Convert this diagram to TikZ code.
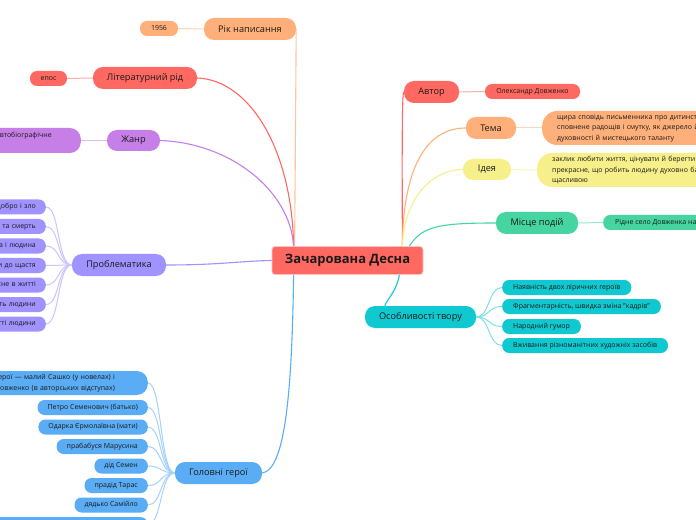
\documentclass[tikz,border=0pt]{standalone}
\usepackage{fontspec}
\setmainfont{Open Sans}
\usetikzlibrary{calc}
\definecolor{txt}{HTML}{1A1A1A}
\definecolor{cred}{HTML}{FF6961}
\definecolor{corange}{HTML}{FFB07A}
\definecolor{cpurple}{HTML}{C57FE6}
\definecolor{clav}{HTML}{A093FF}
\definecolor{cblue}{HTML}{5AADF5}
\definecolor{cyellow}{HTML}{F7EF8A}
\definecolor{cgreen}{HTML}{46D5A1}
\definecolor{ccyan}{HTML}{10C9D0}
\tikzset{
  br/.style={fill=#1, rounded corners=10bp, minimum height=22bp, inner sep=0pt,
    font=\fontsize{9.2}{11}\selectfont, text=txt},
  lf/.style={fill=#1, rounded corners=7bp, minimum height=15bp, inner xsep=10bp, inner ysep=0pt,
    font=\fontsize{7}{9}\selectfont, text=txt},
  para/.style={fill=#1, rounded corners=15bp, inner xsep=15bp, inner ysep=0pt, minimum height=34bp,
    text width=200bp, align=left, font=\fontsize{7}{10.5}\selectfont, text=txt},
  conn/.style={draw=#1, line width=1.1bp},
  lconn/.style={draw=#1!55!white, line width=1bp},
}
\begin{document}
\begin{tikzpicture}[x=1bp,y=-1bp]
\clip (0,0) rectangle (696,520);
\fill[white] (0,0) rectangle (696,520);

% central
\node[fill=cred, draw=cred!40!white, line width=0.8bp, rounded corners=3bp, minimum width=151bp,
  minimum height=28bp, inner sep=0pt, text=txt, font=\fontsize{13}{15}\selectfont\bfseries]
  (central) at (347.5,260.5) {Зачарована Десна};
\coordinate (cL) at ($(central.north west)+(22,0)$);
\coordinate (cLr) at ($(central.north west)+(23,0)$);
\coordinate (cR) at ($(central.north east)+(-21,0)$);
\coordinate (cM) at ($(central.north east)+(-14,0)$);
\coordinate (cB) at ($(central.south west)+(22,0)$);
\coordinate (cBR) at ($(central.south east)+(-24,0)$);

% left branches
\node[br=corange, minimum width=92bp] (rik) at (250,29) {Рік написання};
\node[lf=corange, minimum width=38bp, inner xsep=0pt] (r1956) at (159,28.5) {1956};
\node[br=cred, minimum width=104bp] (litrid) at (145,78) {Літературний рід};
\node[lf=cred, minimum width=37bp, inner xsep=0pt] (epos) at (48.5,78.5) {епос};
\node[br=cpurple, minimum width=53bp, minimum height=21bp] (zhanr) at (133.5,140.5) {Жанр};
\node[fill=cpurple, rounded corners=11bp, minimum width=160bp, minimum height=25bp, inner sep=0pt,
  anchor=east] (zleaf) at (81,140.5) {};
\node[font=\fontsize{7}{9}\selectfont, text=txt, inner sep=0pt, anchor=east] (ztext) at (52,136) {автобіографічне};

\node[br=clav, minimum width=94bp] (probl) at (119,265) {Проблематика};
\foreach \i/\yy/\t in {1/207/{Одвічні питання: добро і зло},2/226.5/{Життя та смерть},
  3/246/{Природа і людина},4/265.5/{Прагнення людини до щастя},5/285/{Прекрасне в житті},
  6/304.5/{Духовність людини},7/324/{Роль праці в житті людини}}{
  \node[lf=clav, anchor=east, text width=110bp, align=right] (pl\i) at (46,\yy) {\t};
  \draw[lconn=clav] (pl\i.east) .. controls (60,\yy) and (57,265) .. (probl.west);
}

\node[br=cblue, minimum width=87bp] (golovni) at (218.5,473) {Головні герої};
\node[fill=cblue, rounded corners=11bp, minimum height=24bp, inner xsep=33bp, inner ysep=0pt,
  text width=220bp, align=right, font=\fontsize{7}{10.5}\selectfont, text=txt, anchor=east]
  (gl0) at (148,383) {Ліричні герої — малий Сашко (у новелах) і\\дорослий Довженко (в авторських відступах)};
\draw[lconn=cblue] (gl0.east) .. controls (162,383) and (160,473) .. (golovni.west);
\foreach \i/\yy/\t in {1/407.5/{Петро Семенович (батько)},2/427/{Одарка Єрмолаївна (мати)},
  3/446.5/{прабабуся Марусина},4/466/{дід Семен},5/485.5/{прадід Тарас},6/505/{дядько Самійло}}{
  \node[lf=cblue, anchor=east] (gl\i) at (148,\yy) {\t};
  \draw[lconn=cblue] (gl\i.east) .. controls (162,\yy) and (160,473) .. (golovni.west);
}
\node[fill=cblue, rounded corners=7bp, minimum width=220bp, minimum height=15bp, inner sep=0pt,
  anchor=north east] (gl7) at (148,517) {};
\draw[lconn=cblue] (gl7.east) .. controls (162,524) and (160,473) .. (golovni.west);

% right branches
\node[br=cred, minimum width=55bp] (avtor) at (431.5,92) {Автор};
\node[lf=cred, minimum width=95bp, inner xsep=0pt] (avleaf) at (532.5,91.5) {Олександр Довженко};
\node[br=corange, minimum width=50bp] (tema) at (491,128) {Тема};
\node[para=corange, anchor=west] (temaleaf) at (542,128)
  {щира сповідь письменника про дитинство,\\сповнене радощів і смутку, як джерело його\\духовності й мистецького таланту};
\node[br=cyellow, minimum width=48bp, minimum height=21bp] (ideya) at (487,169.5) {Ідея};
\node[para=cyellow, anchor=west] (ideyaleaf) at (537,170)
  {заклик любити життя, цінувати й берегти все\\прекрасне, що робить людину духовно багатою і\\щасливою};
\node[br=cgreen, minimum width=82bp] (misce) at (537,223) {Місце подій};
\node[lf=cgreen, anchor=west, inner xsep=12bp] (misceleaf) at (603,222.5) {Рідне село Довженка на Чернігівщині};
\node[br=ccyan, minimum width=111bp] (osob) at (420.5,317) {Особливості твору};
\coordinate (oT) at ($(osob.north west)+(20,0)$);
\foreach \i/\yy/\t in {1/287.5/{Наявність двох ліричних героїв},2/306.5/{Фрагментарність, швидка зміна "кадрів"},
  3/326.5/{Народний гумор},4/345.5/{Вживання різноманітних художніх засобів}}{
  \node[lf=ccyan, anchor=west, inner xsep=11bp] (ol\i) at (502,\yy) {\t};
  \draw[lconn=ccyan] (osob.east) .. controls (490,317) and (488,\yy) .. (ol\i.west);
}

% leaf connectors (straight)
\draw[lconn=corange] (r1956.east) -- (rik.west);
\draw[lconn=cred] (epos.east) -- (litrid.west);
\draw[lconn=cpurple] (zleaf.east) -- (zhanr.west);
\draw[lconn=cred] (avtor.east) -- (avleaf.west);
\draw[lconn=corange] (tema.east) -- (temaleaf.west);
\draw[lconn=cyellow] (ideya.east) -- (ideyaleaf.west);
\draw[lconn=cgreen] (misce.east) -- (misceleaf.west);

% main connectors
\draw[conn=corange!75!white] (rik.east) .. controls (296,60) and (295,200) .. (cLr);
\draw[conn=cred] (litrid.east) .. controls (250,80) and (292,150) .. (cL);
\draw[conn=cpurple] (zhanr.east) .. controls (230,143) and (290,190) .. (cL);
\draw[conn=clav] (probl.east) .. controls (220,265) and (240,261) .. (central.west);
\draw[conn=cblue] (golovni.east) .. controls (284,470) and (292,400) .. (cB);
\draw[conn=cred] (cR) .. controls (402,150) and (402,92) .. (avtor.west);
\draw[conn=corange] (cR) .. controls (403,170) and (425,128) .. (tema.west);
\draw[conn=cyellow] (cR) .. controls (404,200) and (430,170) .. (ideya.west);
\draw[conn=cgreen] (cM) .. controls (422,226) and (440,223) .. (misce.west);
\draw[conn=ccyan] (cBR) .. controls (396,292) and (388,298) .. (oT);
\end{tikzpicture}
\end{document}
